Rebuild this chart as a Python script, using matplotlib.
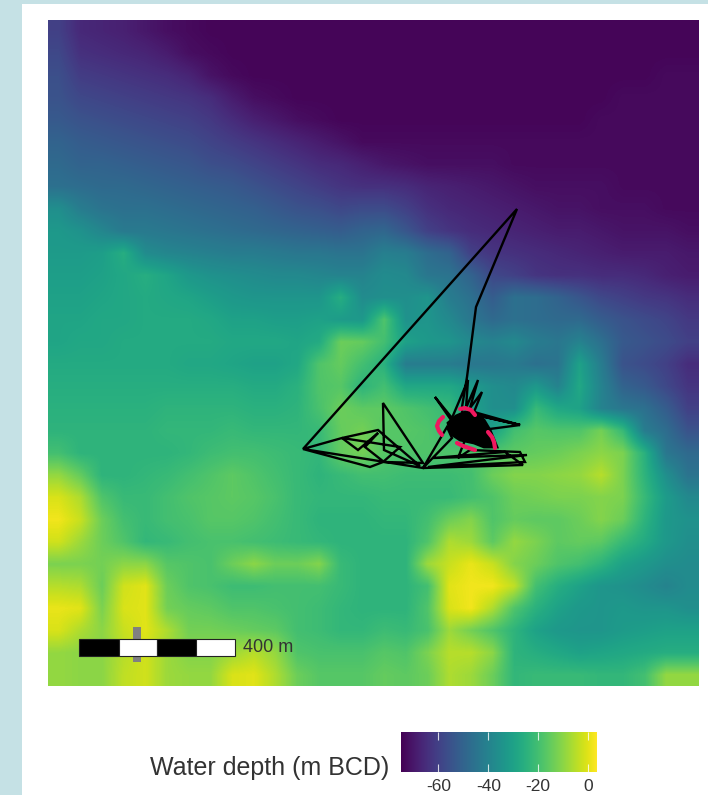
import numpy as np
import matplotlib
matplotlib.use('Agg')
import matplotlib.pyplot as plt
from matplotlib.patches import Rectangle

W, H = 708, 795
plt.rcParams['font.family'] = ['Liberation Sans', 'DejaVu Sans']

# water depth in m BCD, north row first
depth = np.array([
    [-60,-66,-67,-68,-70,-72,-73,-74,-74,-74,-74,-74,-74,-74,-74,-74,-74,-74,-74,-74,-74,-74,-74,-74,-74,-74,-74,-74,-74,-74],
    [-58,-64,-65,-66,-67,-69,-72,-73,-74,-74,-74,-74,-74,-74,-74,-74,-74,-74,-74,-74,-74,-74,-74,-74,-74,-74,-74,-74,-74,-74],
    [-56,-61,-62,-63,-64,-65,-67,-71,-73,-74,-74,-74,-74,-74,-74,-74,-74,-74,-74,-74,-74,-74,-74,-74,-74,-74,-74,-74,-73,-73],
    [-55,-58,-59,-60,-61,-62,-63,-65,-69,-72,-73,-74,-74,-74,-74,-74,-74,-74,-74,-74,-74,-74,-74,-74,-74,-74,-73,-73,-73,-73],
    [-53,-55,-56,-57,-58,-59,-60,-62,-65,-68,-70,-72,-73,-74,-74,-74,-74,-74,-74,-74,-74,-74,-74,-74,-74,-73,-73,-73,-73,-73],
    [-50,-52,-53,-54,-55,-56,-57,-59,-61,-63,-65,-67,-69,-71,-73,-73,-73,-73,-73,-73,-73,-73,-73,-73,-73,-73,-73,-73,-73,-73],
    [-48,-50,-50,-51,-52,-53,-54,-56,-57,-59,-61,-63,-65,-66,-68,-70,-71,-72,-72,-72,-72,-73,-73,-73,-73,-73,-73,-73,-73,-73],
    [-46,-47,-48,-48,-49,-50,-51,-52,-53,-55,-57,-59,-61,-63,-64,-64,-65,-67,-68,-69,-70,-71,-72,-72,-72,-72,-73,-73,-73,-73],
    [-36,-42,-45,-46,-46,-47,-48,-49,-50,-51,-53,-55,-56,-58,-57,-57,-60,-64,-66,-67,-68,-69,-70,-71,-71,-72,-72,-72,-73,-73],
    [-33,-35,-39,-43,-43,-44,-45,-46,-47,-48,-49,-50,-51,-52,-50,-49,-54,-60,-63,-65,-66,-67,-68,-69,-69,-70,-71,-71,-71,-72],
    [-32,-32,-31,-26,-37,-39,-40,-41,-42,-42,-43,-44,-44,-45,-45,-41,-42,-47,-50,-60,-63,-64,-65,-66,-67,-68,-69,-69,-69,-70],
    [-31,-31,-30,-28,-26,-29,-33,-35,-36,-37,-38,-38,-39,-40,-40,-37,-38,-44,-45,-50,-58,-60,-63,-64,-64,-65,-65,-66,-68,-69],
    [-30,-30,-29,-28,-27,-28,-29,-31,-33,-34,-34,-34,-34,-26,-37,-36,-36,-34,-42,-46,-52,-46,-47,-50,-54,-58,-60,-62,-63,-65],
    [-29,-29,-28,-28,-27,-27,-27,-28,-30,-30,-31,-31,-30,-32,-33,-18,-35,-34,-38,-44,-48,-46,-47,-48,-48,-52,-55,-57,-59,-62],
    [-29,-28,-28,-27,-27,-27,-27,-27,-28,-28,-28,-29,-27,-14,-15,-20,-30,-33,-34,-38,-40,-38,-42,-44,-40,-46,-53,-55,-57,-60],
    [-27,-27,-27,-27,-27,-27,-28,-28,-29,-30,-30,-28,-18,-15,-20,-25,-42,-42,-42,-44,-44,-43,-46,-45,-30,-42,-55,-57,-60,-65],
    [-26,-26,-26,-26,-26,-26,-26,-26,-26,-27,-27,-25,-18,-17,-24,-20,-28,-28,-28,-32,-36,-38,-33,-40,-28,-40,-50,-53,-58,-63],
    [-25,-25,-25,-25,-25,-24,-24,-24,-24,-25,-25,-24,-19,-14,-16,-16,-18,-20,-22,-30,-36,-36,-22,-28,-30,-40,-44,-46,-52,-60],
    [-24,-24,-24,-24,-24,-23,-23,-23,-22,-23,-23,-23,-22,-15,-13,-17,-17,-18,-22,-28,-30,-20,-17,-18,-18,-13,-22,-42,-47,-55],
    [-20,-24,-24,-24,-24,-24,-23,-21,-20,-20,-21,-22,-23,-15,-13,-17,-18,-18,-18,-18,-18,-16,-15,-14,-12,-10,-12,-25,-44,-48],
    [-9,-15,-24,-24,-23,-22,-20,-18,-16,-18,-20,-22,-24,-22,-20,-20,-21,-21,-21,-20,-14,-11,-11,-10,-9,-5,-12,-24,-36,-45],
    [-1,-6,-18,-22,-22,-20,-18,-17,-16,-17,-19,-22,-23,-23,-23,-22,-22,-22,-22,-20,-18,-14,-13,-12,-12,-11,-12,-22,-32,-38],
    [2,-3,-14,-20,-22,-20,-19,-17,-17,-18,-20,-22,-24,-24,-24,-23,-23,-20,-14,-11,-18,-15,-16,-16,-14,-11,-14,-24,-33,-35],
    [-2,-8,-14,-18,-23,-22,-20,-19,-19,-20,-21,-22,-23,-24,-24,-24,-24,-18,-6,-8,-16,-9,-12,-16,-15,-16,-22,-27,-33,-36],
    [-12,-12,-13,-10,-10,-17,-18,-19,-14,-10,-14,-14,-11,-22,-24,-24,-24,-8,-3,1,-3,-11,-14,-18,-20,-24,-30,-33,-36,-37],
    [-5,-6,-14,-2,0,-14,-18,-19,-21,-21,-20,-20,-20,-22,-24,-24,-24,-20,0,2,2,-4,-20,-26,-30,-34,-35,-37,-40,-37],
    [1,0,-12,-1,0,-13,-15,-16,-18,-18,-19,-20,-21,-23,-24,-24,-24,-18,-1,2,-6,-18,-25,-30,-33,-34,-33,-34,-34,-36],
    [-1,-6,-10,-3,0,-6,-13,-13,-14,-15,-16,-20,-21,-23,-23,-21,-22,-19,-8,-13,-18,-24,-30,-33,-34,-34,-32,-31,-30,-30],
    [-9,-10,-10,-5,-2,-8,-11,-11,-8,-5,-9,-18,-19,-19,-19,-17,-18,-12,-5,-5,-10,-24,-26,-28,-30,-29,-28,-27,-26,-26],
    [-9,-10,-10,-4,-2,-8,-9,-9,-1,0,-6,-14,-17,-17,-17,-15,-16,-14,-6,-8,-14,-23,-22,-22,-22,-23,-23,-20,-9,-9],
])
depth_min = -75
depth_max = 3.6
cbar_ticks = [-60, -40, -20, 0]
cbar_labels = ['-60', '-40', '-20', '0']

# animal track, in map units
track_x = [463,462,467,476,517,303,342,378,420,384,383,423,384,365,378,358,342,400,383,370,303,
           423,447,452,423,523,505,433,527,428,525,520,470,458,465,
           435,452,468,466,478,470,482,474,520,476,520,482]
track_y = [425,407,377,307,209,449,438,430,466,450,403,463,462,447,433,450,438,447,462,467,449,
           468,427,438,468,465,452,458,455,467,462,452,450,458,440,
           397,418,380,408,380,408,392,412,425,415,425,430]

# tight bursts of fixes round the haul-out
core_x = [448,456,465,476,484,490,497,484,474,460,451]
core_y = [423,416,412,413,420,430,447,447,443,440,434]

ring_left_x = [443,439,437,439,442]
ring_left_y = [417,421,426,431,435]
ring_top_x = [460,465,471,475]
ring_top_y = [409,408,410,415]
ring_right_x = [488,492,494,495]
ring_right_y = [432,437,442,448]
ring_bottom_x = [457,463,469,475]
ring_bottom_y = [443,446,448,450]

scale_edges = [79, 118.5, 157, 196, 235]
scale_colors = ['black', 'white', 'black', 'white']


def px_axes(fig, left, top, right, bottom):
    return fig.add_axes([left / W, 1 - bottom / H, (right - left) / W, (bottom - top) / H])


fig = plt.figure(figsize=(W / 100, H / 100), dpi=100, facecolor='white')
fig.patches.append(Rectangle((0, 0), 22 / W, 1, transform=fig.transFigure, color='#c5e1e5', lw=0))
fig.patches.append(Rectangle((0, 1 - 4 / H), 1, 4 / H, transform=fig.transFigure, color='#c5e1e5', lw=0))

ax = px_axes(fig, 48, 20, 699, 686)
ax.imshow(depth, cmap='viridis', vmin=depth_min, vmax=depth_max, extent=(48, 699, 686, 20),
          aspect='auto', interpolation='bilinear')
ax.set_xlim(48, 699)
ax.set_ylim(686, 20)
ax.axis('off')

ax.plot(track_x, track_y, color='black', lw=1.7, solid_joinstyle='miter', zorder=3)
ax.fill(core_x, core_y, facecolor='black', edgecolor='black', lw=2, zorder=3)

pink = dict(color='#f0185f', lw=3, solid_capstyle='round', zorder=4)
ax.plot(ring_left_x, ring_left_y, **pink)
ax.plot(ring_top_x, ring_top_y, **pink)
ax.plot(ring_right_x, ring_right_y, **pink)
ax.plot(ring_bottom_x, ring_bottom_y, **pink)

# scale bar
ax.add_patch(Rectangle((133, 627), 8, 35, color='#808080', lw=0, zorder=6))
for i, col in enumerate(scale_colors):
    ax.add_patch(Rectangle((scale_edges[i], 639), scale_edges[i + 1] - scale_edges[i], 16.5,
                           facecolor=col, edgecolor='#222222', lw=0.8, zorder=7))
ax.text(243, 647, '400 m', fontsize=13, color='#333333', va='center', ha='left', zorder=7)

# colour bar
cax = px_axes(fig, 401, 732, 597, 772)
grad = np.linspace(depth_min, depth_max, 256).reshape(1, -1)
cax.imshow(grad, cmap='viridis', vmin=depth_min, vmax=depth_max,
           extent=(depth_min, depth_max, 0, 1), aspect='auto')
for spine in cax.spines.values():
    spine.set_visible(False)
cax.set_yticks([])
cax.set_xticks(cbar_ticks)
cax.set_xticklabels(cbar_labels, fontsize=12.5, color='#333333')
cax.tick_params(axis='x', length=0, pad=5)
cax.vlines(cbar_ticks, 0, 0.2, color='white', lw=0.8, alpha=0.8)
cax.vlines(cbar_ticks, 0.8, 1, color='white', lw=0.8, alpha=0.8)

fig.text(389 / W, 1 - 768 / H, 'Water depth (m BCD)', fontsize=18, color='#333333', ha='right', va='center')

fig.savefig('out.png', dpi=100)
